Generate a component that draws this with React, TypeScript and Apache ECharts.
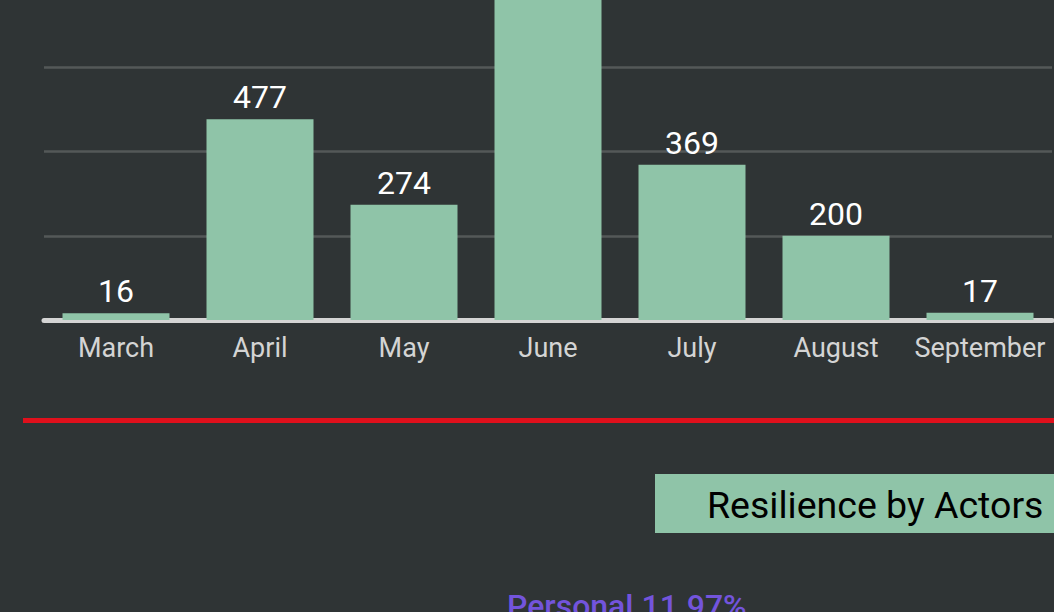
import React, { useEffect, useRef } from "react";
import * as echarts from "echarts";

const months = ["March", "April", "May", "June", "July", "August", "September"];
const counts = [16, 477, 274, 850, 369, 200, 17];
const yTicks = [0, 200, 400, 600, 800, 1000];
const sectionTitle = "Resilience by Actors";
const pieLabels = ["Personal 11.97%"];

const OFF = 101; // chart area extends above the visible page

export default function App() {
  const ref = useRef<HTMLDivElement>(null);
  useEffect(() => {
    document.body.style.margin = "0";
    document.body.style.background = "#2f3435";
    document.body.style.overflow = "hidden";
    const chart = echarts.init(ref.current!, null, { renderer: "svg" });
    chart.setOption({
      animation: false,
      backgroundColor: "#2f3435",
      textStyle: { fontFamily: "Roboto" },
      grid: { left: 44, width: 1008, top: 0, height: 421 },
      xAxis: {
        type: "category",
        data: months,
        axisTick: { show: false },
        axisLine: { lineStyle: { color: "#d4d4d4", width: 5 } },
        axisLabel: { color: "#d4d4d4", fontSize: 27, margin: 14, interval: 0, fontFamily: "Roboto" },
      },
      yAxis: {
        type: "value",
        min: yTicks[0],
        max: yTicks[yTicks.length - 1],
        interval: 200,
        axisLabel: { show: false },
        axisLine: { show: false },
        splitLine: { lineStyle: { color: "#545858", width: 2.5 } },
      },
      series: [
        {
          type: "bar",
          data: counts,
          barWidth: 107,
          itemStyle: { color: "#8fc4a8" },
          label: {
            show: true,
            position: "top",
            distance: 6,
            color: "#ffffff",
            fontSize: 32,
            fontWeight: "normal",
            fontFamily: "Roboto",
          },
        },
      ],
      graphic: [
        {
          type: "line",
          shape: { x1: 23, y1: 420.5 + OFF, x2: 1054, y2: 420.5 + OFF },
          style: { stroke: "#e0101c", lineWidth: 5 },
        },
        {
          type: "rect",
          shape: { x: 655, y: 474 + OFF, width: 420, height: 59 },
          style: { fill: "#8fc4a8" },
        },
        {
          type: "text",
          x: 707,
          y: 505 + OFF,
          style: {
            text: sectionTitle,
            fill: "#000000",
            fontSize: 37.5,
            fontWeight: "normal",
            fontFamily: "Roboto",
            verticalAlign: "middle",
            textAlign: "left",
          },
        },
        {
          type: "text",
          x: 507,
          y: 590 + OFF,
          style: {
            text: pieLabels[0],
            fill: "#7354dc",
            fontSize: 32,
            fontWeight: 500,
            fontFamily: "Roboto",
            verticalAlign: "top",
            textAlign: "left",
          },
        },
      ],
    });
    return () => chart.dispose();
  }, []);
  return (
    <div
      ref={ref}
      style={{ position: "absolute", left: 0, top: -OFF, width: 1054, height: 612 + OFF }}
    />
  );
}
